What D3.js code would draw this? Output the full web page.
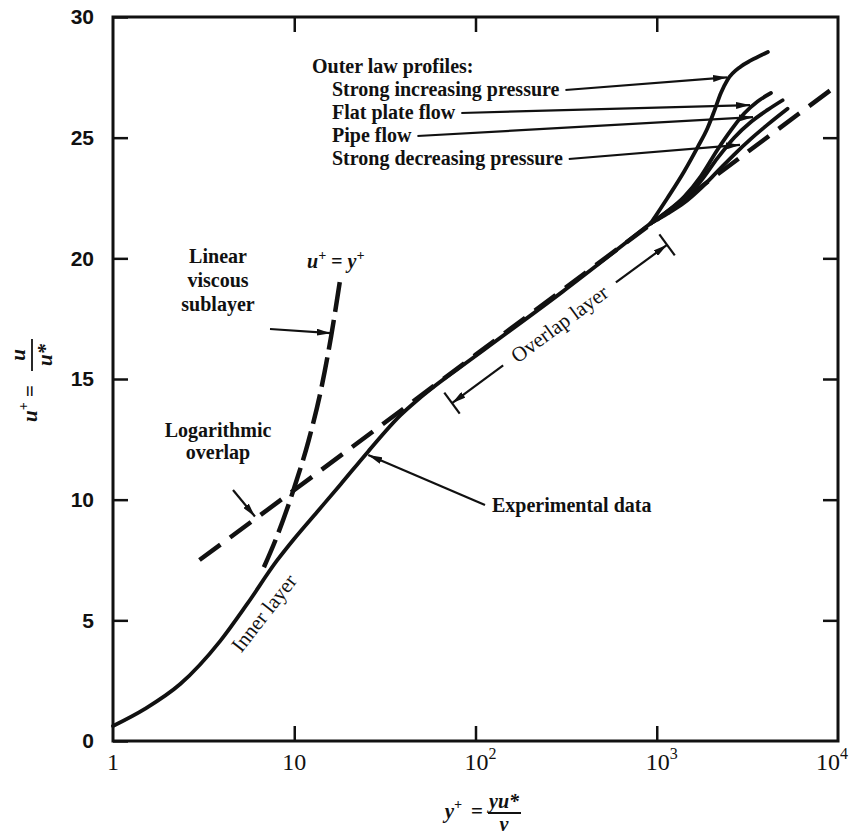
<!DOCTYPE html>
<html>
<head>
<meta charset="utf-8">
<script src="https://cdn.jsdelivr.net/npm/d3@7"></script>
<style>
body { margin: 0; background: #fff; }
text { fill: #111; }
.note { font-family: "Liberation Serif", serif; font-weight: bold; font-size: 20px; }
.thin { font-family: "Liberation Serif", serif; font-size: 21px; }
</style>
</head>
<body>
<script>
// tick labels
var xTickVals = [1, 10, 100, 1000, 10000];
var xTickBase = ["1", "10", "10", "10", "10"];
var xTickSup = ["", "", "2", "3", "4"];
var yTickVals = [0, 5, 10, 15, 20, 25, 30];

// experimental data (solid curve)
var expYPlus = [1, 1.5, 2.35, 3.9, 5.5, 8, 10, 13.4, 18, 25.6, 38.6, 50, 100, 300, 926];
var expUPlus = [0.62, 1.33, 2.36, 4.14, 5.68, 7.46, 8.38, 9.5, 10.63, 12.0, 13.5, 14.25, 15.95, 18.6, 21.45];

// outer law profiles
var incYPlus = [926, 1146, 1416, 1679, 1907, 2076, 2259, 2459, 2911, 3306, 4104];
var incUPlus = [21.45, 22.5, 23.6, 24.6, 25.4, 26.1, 26.85, 27.4, 27.95, 28.2, 28.55];
var flatYPlus = [926, 1146, 1416, 1750, 2163, 2564, 3035, 3599, 4266];
var flatUPlus = [21.45, 21.95, 22.55, 23.4, 24.5, 25.3, 26.0, 26.5, 26.85];
var pipeYPlus = [926, 1146, 1416, 1750, 2163, 2673, 3306, 4087, 4946];
var pipeUPlus = [21.45, 21.9, 22.45, 23.2, 24.15, 25.0, 25.65, 26.15, 26.55];
var decYPlus = [926, 1146, 1416, 1750, 2163, 2673, 3306, 4104, 5270];
var decUPlus = [21.45, 21.85, 22.3, 22.9, 23.6, 24.3, 24.95, 25.55, 26.2];

// dashed: logarithmic overlap and u+ = y+
var logYPlus = [3, 10, 100, 1000, 10000];
var logUPlus = [7.5, 10.4, 16.0, 21.6, 27.2];
var linYPlus = [6.8, 8, 10, 12, 14, 16, 17.9];
var linUPlus = [7.2, 8.45, 10.5, 12.45, 14.5, 16.8, 19.1];

var w = 850, h = 836;
var padL = 113, padR = 838, padT = 17, padB = 741;

var svg = d3.select("body").append("svg")
	.attr("width", w)
	.attr("height", h);

var x = d3.scaleLog().domain([1, 10000]).range([padL, padR]);
var y = d3.scaleLinear().domain([0, 30]).range([padB, padT]);

var defs = svg.append("defs");
defs.append("marker")
	.attr("id", "arr")
	.attr("viewBox", "0 0 12 6")
	.attr("refX", 12).attr("refY", 3)
	.attr("markerWidth", 14).attr("markerHeight", 7)
	.attr("markerUnits", "userSpaceOnUse")
	.attr("orient", "auto-start-reverse")
	.append("path").attr("d", "M0,0L12,3L0,6Z").attr("fill", "#111");

// axes, ticks pointing inward
function tidy(g) {
	g.select(".domain").remove();
	g.selectAll(".tick line").attr("stroke", "#111").attr("stroke-width", 2.5);
}
var xInner = xTickVals.slice(1, 4);
svg.append("g").attr("transform", "translate(0," + padB + ")")
	.call(d3.axisBottom(x).tickValues(xInner).tickSize(-15).tickFormat(""))
	.call(tidy);
svg.append("g").attr("transform", "translate(0," + padT + ")")
	.call(d3.axisTop(x).tickValues(xInner).tickSize(-15).tickFormat(""))
	.call(tidy);
svg.append("g").attr("transform", "translate(" + padR + ",0)")
	.call(d3.axisRight(y).tickValues(yTickVals.slice(1, 6)).tickSize(-15).tickFormat(""))
	.call(tidy);
var yAx = svg.append("g").attr("transform", "translate(" + padL + ",0)")
	.call(d3.axisLeft(y).tickValues(yTickVals).tickSize(-15).tickPadding(19))
	.call(tidy);
yAx.selectAll("text")
	.attr("font-family", "'Liberation Sans', Arial, sans-serif")
	.attr("font-weight", "bold")
	.attr("font-size", "21px")
	.attr("fill", "#111");

svg.append("rect")
	.attr("x", padL).attr("y", padT)
	.attr("width", padR - padL).attr("height", padB - padT)
	.attr("fill", "none").attr("stroke", "#111").attr("stroke-width", 3);

// x tick labels with superscripts
var xl = svg.selectAll(".xlab")
	.data(xTickVals)
	.enter().append("text")
	.attr("class", "xlab")
	.attr("x", function(d, i) {
		if (i === xTickVals.length - 1) return x(d) - 6;
		return x(d) + (xTickSup[i] ? 5 : 0);
	})
	.attr("y", 770)
	.attr("text-anchor", "middle")
	.attr("font-family", "'Liberation Serif', serif")
	.attr("font-size", "24px");
xl.append("tspan").text(function(d, i) { return xTickBase[i]; });
xl.append("tspan").attr("dy", -11).attr("font-size", "16px")
	.text(function(d, i) { return xTickSup[i]; });

// curves
var line = d3.line()
	.x(function(d) { return x(d[0]); })
	.y(function(d) { return y(d[1]); })
	.curve(d3.curveMonotoneX);

svg.append("path")
	.datum(d3.zip(logYPlus, logUPlus))
	.attr("d", line)
	.attr("fill", "none").attr("stroke", "#111")
	.attr("stroke-width", 4.5).attr("stroke-dasharray", "26,12");
svg.append("path")
	.datum(d3.zip(linYPlus, linUPlus))
	.attr("d", line)
	.attr("fill", "none").attr("stroke", "#111")
	.attr("stroke-width", 4.5).attr("stroke-dasharray", "30,8");

var solids = [
	d3.zip(expYPlus, expUPlus),
	d3.zip(incYPlus, incUPlus),
	d3.zip(flatYPlus, flatUPlus),
	d3.zip(pipeYPlus, pipeUPlus),
	d3.zip(decYPlus, decUPlus)
];
svg.selectAll(".solid")
	.data(solids)
	.enter().append("path")
	.attr("class", "solid")
	.attr("d", line)
	.attr("fill", "none").attr("stroke", "#111")
	.attr("stroke-width", 3.8).attr("stroke-linecap", "round");

function arrow(x1, y1, x2, y2) {
	svg.append("line")
		.attr("x1", x1).attr("y1", y1).attr("x2", x2).attr("y2", y2)
		.attr("stroke", "#111").attr("stroke-width", 2.2)
		.attr("marker-end", "url(#arr)");
}

// outer law labels
svg.append("text").attr("class", "note").attr("x", 312).attr("y", 73).text("Outer law profiles:");
var outerLabels = ["Strong increasing pressure", "Flat plate flow", "Pipe flow", "Strong decreasing pressure"];
var outerTips = [[2441, 27.5], [3270, 26.35], [3396, 25.85], [2879, 24.7]];
outerLabels.forEach(function(t, i) {
	var by = 96 + i * 23;
	var tx = svg.append("text").attr("class", "note")
		.attr("x", 332).attr("y", by).text(t);
	var end = 332 + tx.node().getComputedTextLength() + 6;
	arrow(end, by - 6, x(outerTips[i][0]), y(outerTips[i][1]));
});

// linear viscous sublayer
["Linear", "viscous", "sublayer"].forEach(function(t, i) {
	svg.append("text").attr("class", "note").attr("x", 218).attr("y", 263 + i * 24)
		.attr("text-anchor", "middle").text(t);
});
arrow(270, 329, x(15.9), y(16.9));

var uy = svg.append("text").attr("x", 307).attr("y", 268)
	.attr("font-family", "'Liberation Serif', serif").attr("font-style", "italic")
	.attr("font-weight", "bold").attr("font-size", "20px");
uy.append("tspan").text("u");
uy.append("tspan").attr("dy", -8).attr("font-size", "14px").text("+");
uy.append("tspan").attr("dy", 8).text(" = y");
uy.append("tspan").attr("dy", -8).attr("font-size", "14px").text("+");

// logarithmic overlap
["Logarithmic", "overlap"].forEach(function(t, i) {
	svg.append("text").attr("class", "note").attr("x", 218).attr("y", 437 + i * 22)
		.attr("text-anchor", "middle").text(t);
});
arrow(233, 490, x(6.07), y(9.3));

// experimental data
svg.append("text").attr("class", "note").attr("x", 492).attr("y", 512).text("Experimental data");
arrow(485, 505, x(25.6), y(11.85));

// inner layer
svg.append("text").attr("class", "thin")
	.attr("transform", "translate(" + x(6.81) + "," + y(5.3) + ") rotate(-52)")
	.attr("text-anchor", "middle").attr("dominant-baseline", "central")
	.text("Inner layer");

// overlap layer bracket
var p1 = [x(74.2), y(14.0)], p2 = [x(1140), y(20.56)];
var dx = p2[0] - p1[0], dy = p2[1] - p1[1], L = Math.sqrt(dx * dx + dy * dy);
var ux = dx / L, uyv = dy / L, nx = -uyv, ny = ux;
[p1, p2].forEach(function(p) {
	svg.append("line")
		.attr("x1", p[0] - nx * 13).attr("y1", p[1] - ny * 13)
		.attr("x2", p[0] + nx * 13).attr("y2", p[1] + ny * 13)
		.attr("stroke", "#111").attr("stroke-width", 2.2);
});
var seg = L / 2 - 70;
arrow(p1[0] + ux * seg, p1[1] + uyv * seg, p1[0], p1[1]);
arrow(p2[0] - ux * seg, p2[1] - uyv * seg, p2[0], p2[1]);
svg.append("text").attr("class", "thin")
	.attr("transform", "translate(" + (p1[0] + dx / 2) + "," + (p1[1] + dy / 2) + ") rotate(" + (Math.atan2(dy, dx) * 180 / Math.PI) + ")")
	.attr("text-anchor", "middle").attr("dominant-baseline", "central")
	.text("Overlap layer");

// axis titles
var serifI = "'Liberation Serif', serif";
var xt = svg.append("g");
var xt1 = xt.append("text").attr("x", 462).attr("y", 818).attr("text-anchor", "end")
	.attr("font-family", serifI).attr("font-style", "italic").attr("font-weight", "bold").attr("font-size", "21px");
xt1.append("tspan").text("y");
xt1.append("tspan").attr("dy", -9).attr("font-size", "14px").text("+");
xt.append("text").attr("x", 477).attr("y", 818).attr("text-anchor", "middle")
	.attr("font-family", serifI).attr("font-weight", "bold").attr("font-size", "21px").text("=");
xt.append("text").attr("x", 504).attr("y", 808).attr("text-anchor", "middle")
	.attr("font-family", serifI).attr("font-style", "italic").attr("font-weight", "bold").attr("font-size", "20px")
	.text("yu*");
xt.append("line").attr("x1", 488).attr("x2", 521).attr("y1", 813).attr("y2", 813)
	.attr("stroke", "#111").attr("stroke-width", 1.8);
xt.append("text").attr("x", 504).attr("y", 831).attr("text-anchor", "middle")
	.attr("font-family", serifI).attr("font-style", "italic").attr("font-weight", "bold").attr("font-size", "20px")
	.text("\u03bd");

var yt = svg.append("g").attr("transform", "translate(32,379) rotate(-90)");
var yt1 = yt.append("text").attr("x", -6).attr("y", 5).attr("text-anchor", "end")
	.attr("font-family", serifI).attr("font-style", "italic").attr("font-weight", "bold").attr("font-size", "21px");
yt1.append("tspan").text("u");
yt1.append("tspan").attr("dy", -9).attr("font-size", "14px").text("+");
yt1.append("tspan").attr("dy", 9).attr("font-style", "normal").text(" =");
yt.append("text").attr("x", 24).attr("y", -7).attr("text-anchor", "middle")
	.attr("font-family", serifI).attr("font-style", "italic").attr("font-weight", "bold").attr("font-size", "21px")
	.text("u");
yt.append("line").attr("x1", 8).attr("x2", 40).attr("y1", 0).attr("y2", 0)
	.attr("stroke", "#111").attr("stroke-width", 1.8);
yt.append("text").attr("x", 24).attr("y", 20).attr("text-anchor", "middle")
	.attr("font-family", serifI).attr("font-style", "italic").attr("font-weight", "bold").attr("font-size", "21px")
	.text("u*");
</script>
</body>
</html>
